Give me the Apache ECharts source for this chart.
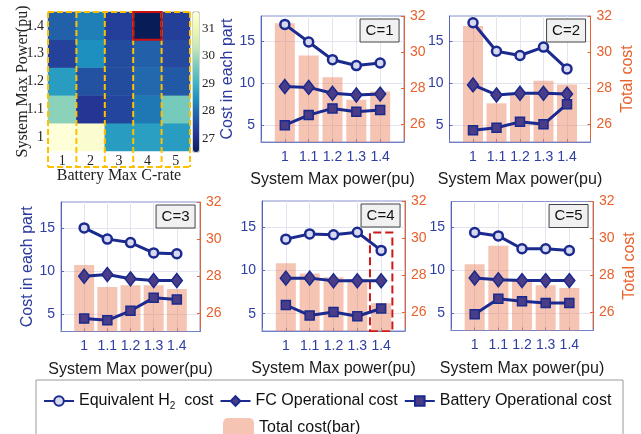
<!DOCTYPE html>
<html>
<head>
<meta charset="utf-8">
<script src="https://cdn.jsdelivr.net/npm/echarts@6/dist/echarts.min.js"></script>
<style>
  html, body { margin: 0; padding: 0; background: #fff; }
  #chart { width: 641px; height: 434px; }
</style>
</head>
<body>
<div id="chart"></div>
<script>
// System max power levels (pu) on the x axis of every panel
const powerLevels = [1, 1.1, 1.2, 1.3, 1.4];
const powerLabels = ['1', '1.1', '1.2', '1.3', '1.4'];
// Battery max C-rate, one panel per value
const cRates = ['1', '2', '3', '4', '5'];

// Cost components: one row per C-rate, one column per power level
const h2Cost = [
  [17.0, 14.9, 12.8, 12.1, 12.4],
  [17.2, 13.8, 13.3, 14.3, 11.7],
  [15.0, 13.7, 13.3, 12.1, 12.0],
  [13.6, 14.2, 14.1, 14.4, 12.3],
  [14.4, 14.0, 12.5, 12.5, 12.3]
];
const fcCost = [
  [9.6, 9.5, 8.8, 8.6, 8.7],
  [9.8, 8.6, 8.8, 8.8, 8.7],
  [9.4, 9.6, 9.1, 8.9, 8.9],
  [9.1, 9.1, 8.8, 8.8, 8.8],
  [9.1, 8.9, 8.8, 8.8, 8.8]
];
const batteryCost = [
  [5.0, 6.2, 7.0, 6.6, 6.8],
  [4.4, 4.7, 5.4, 5.1, 7.5],
  [4.5, 4.3, 5.4, 6.9, 6.7],
  [6.0, 4.8, 5.2, 4.7, 5.6],
  [4.9, 6.7, 6.4, 6.2, 6.2]
];
const totalCost = [
  [31.6, 29.8, 28.6, 27.35, 27.8],
  [31.45, 27.15, 27.6, 28.4, 28.2],
  [28.6, 27.4, 27.5, 27.5, 27.3],
  [28.65, 28.1, 27.9, 27.8, 26.5],
  [28.6, 29.6, 27.7, 27.45, 27.3]
];
const colorbarTicks = [27, 28, 29, 30, 31];

// Panel placement (pixels) for the five C-rate charts
const panels = [
  { c: 0, left: 261, top: 16, width: 143, height: 126, leftName: true,  rightName: false },
  { c: 1, left: 449.5, top: 16, width: 141, height: 126, leftName: false, rightName: true },
  { c: 2, left: 61, top: 202, width: 139, height: 129.5, leftName: true,  rightName: false },
  { c: 3, left: 262, top: 201, width: 143, height: 130, leftName: false, rightName: false },
  { c: 4, left: 451, top: 201.5, width: 142, height: 129, leftName: false, rightName: true }
];

const SANS = "'Liberation Sans', Arial, sans-serif";
const SERIF = "'Liberation Serif', 'Times New Roman', serif";
const NAVY = '#1b2a8e';
const BLUE_TXT = '#2f3ea2';
const ORANGE = '#e8602c';
const H2_NAME = 'Equivalent H2 cost';
const FC_NAME = 'FC Operational cost';
const BAT_NAME = 'Battery Operational cost';
const BAR_NAME = 'Total cost(bar)';
const YLGNBU = ['#081d58', '#253494', '#225ea8', '#1d91c0', '#41b6c4', '#7fcdbb', '#c7e9b4', '#edf8b1', '#ffffd9'];

// Optimal (lowest total cost) configuration
let best = { c: 0, p: 0, v: Infinity };
totalCost.forEach((row, c) => row.forEach((v, p) => { if (v < best.v) best = { c, p, v }; }));
const allTotals = totalCost.flat();
const vMin = Math.min(...allTotals);
const vMax = Math.max(...allTotals);

const grids = [], xAxes = [], yAxes = [], series = [], titles = [];

panels.forEach((p, i) => {
  grids.push({ left: p.left, top: p.top, width: p.width, height: p.height,
    show: true, borderColor: '#8590cc', borderWidth: 1, backgroundColor: 'transparent' });
  xAxes.push({
    type: 'value', gridIndex: i, min: 0.9, max: 1.5, interval: 0.1,
    axisLine: { show: true, lineStyle: { color: '#7380c6', width: 1 } },
    axisTick: { show: true, inside: true, length: 3, lineStyle: { color: '#7380c6' } },
    axisLabel: { color: BLUE_TXT, fontSize: 14, margin: 8, fontFamily: SANS,
      formatter: v => (v < 0.95 || v > 1.45) ? '' : String(Math.round(v * 10) / 10) },
    splitLine: { show: true, lineStyle: { color: '#e2e4f1', width: 1 } },
    name: 'System Max power(pu)', nameLocation: 'middle', nameGap: 30,
    nameTextStyle: { color: '#1a1a1a', fontSize: 16, fontFamily: SANS }
  });
  yAxes.push({
    type: 'value', gridIndex: i, position: 'left', min: 3, max: 18,
    axisLine: { show: true, lineStyle: { color: '#5565ba', width: 1 } },
    axisTick: { show: true, inside: true, length: 3, customValues: [5, 10, 15], lineStyle: { color: '#5565ba' } },
    axisLabel: { color: BLUE_TXT, fontSize: 14, margin: 6, fontFamily: SANS, customValues: [5, 10, 15] },
    splitLine: { show: true, lineStyle: { color: '#e2e4f1', width: 1 } },
    name: p.leftName ? 'Cost in each part' : '', nameLocation: 'middle', nameGap: 25, nameRotate: 90,
    nameTextStyle: { color: '#2a3a9e', fontSize: 16, fontFamily: SANS }
  });
  yAxes.push({
    type: 'value', gridIndex: i, position: 'right', min: 25, max: 32,
    axisLine: { show: true, lineStyle: { color: ORANGE, width: 1 } },
    axisTick: { show: true, inside: true, length: 3, customValues: [26, 28, 30, 32], lineStyle: { color: ORANGE } },
    axisLabel: { color: ORANGE, fontSize: 14, margin: 6, fontFamily: SANS, customValues: [26, 28, 30, 32] },
    splitLine: { show: false },
    name: p.rightName ? 'Total cost' : '', nameLocation: 'middle', nameGap: 29, nameRotate: 90,
    nameTextStyle: { color: ORANGE, fontSize: 16, fontFamily: SANS }
  });

  const bar = {
    type: 'bar', name: BAR_NAME, xAxisIndex: i, yAxisIndex: 2 * i + 1,
    data: powerLevels.map((x, k) => [x, totalCost[p.c][k]]),
    barWidth: 20, itemStyle: { color: 'rgba(234,130,94,0.47)' }, z: 1, silent: true
  };
  if (p.c === best.c) {
    bar.markArea = {
      silent: true,
      itemStyle: { color: 'rgba(0,0,0,0)', borderColor: '#cc1818', borderWidth: 2, borderType: 'dashed' },
      label: { show: false },
      data: [[{ xAxis: powerLevels[best.p] - 0.047, yAxis: 30.3 }, { xAxis: powerLevels[best.p] + 0.047, yAxis: 25 }]]
    };
  }
  series.push(bar);

  const lineBase = { type: 'line', xAxisIndex: i, yAxisIndex: 2 * i, z: 3, silent: true,
    lineStyle: { color: NAVY, width: 3 } };
  series.push(Object.assign({}, lineBase, {
    name: H2_NAME, data: powerLevels.map((x, k) => [x, h2Cost[p.c][k]]),
    symbol: 'circle', symbolSize: 9,
    itemStyle: { color: '#d6d9ef', borderColor: NAVY, borderWidth: 2.5 }
  }));
  series.push(Object.assign({}, lineBase, {
    name: FC_NAME, data: powerLevels.map((x, k) => [x, fcCost[p.c][k]]),
    symbol: 'diamond', symbolSize: [11, 14],
    itemStyle: { color: '#4a3c86', borderColor: NAVY, borderWidth: 1.5 }
  }));
  series.push(Object.assign({}, lineBase, {
    name: BAT_NAME, data: powerLevels.map((x, k) => [x, batteryCost[p.c][k]]),
    symbol: 'rect', symbolSize: 9,
    itemStyle: { color: '#4a3c86', borderColor: NAVY, borderWidth: 1.5 }
  }));

  titles.push({
    text: 'C=' + cRates[p.c], right: 641 - (p.left + p.width) + 4.5, top: p.top + 2.5,
    backgroundColor: '#f1f1f1', borderColor: '#444', borderWidth: 1, padding: [3, 6, 3, 6],
    textStyle: { fontSize: 15, fontWeight: 'normal', color: '#111', fontFamily: SANS, lineHeight: 18 }
  });
});

// Heatmap of total cost: C-rate (x) versus system max power (y)
const HEAT = panels.length;
grids.push({ left: 48, top: 12, width: 142, height: 139 });
xAxes.push({
  type: 'category', gridIndex: HEAT, data: cRates,
  axisLine: { show: false }, axisTick: { show: false },
  axisLabel: { color: '#222', fontSize: 14, fontFamily: SERIF, margin: 3 },
  name: 'Battery Max C-rate', nameLocation: 'middle', nameGap: 17, nameMoveOverlap: false,
  nameTextStyle: { color: '#222', fontSize: 16, fontFamily: SERIF }
});
yAxes.push({
  type: 'category', gridIndex: HEAT, data: powerLabels,
  axisLine: { show: false }, axisTick: { show: false },
  axisLabel: { color: '#222', fontSize: 14, fontFamily: SERIF, margin: 4 },
  name: 'System Max Power(pu)', nameLocation: 'middle', nameGap: 17, nameRotate: 90, nameMoveOverlap: false,
  nameTextStyle: { color: '#222', fontSize: 16, fontFamily: SERIF }
});
const heatData = [];
totalCost.forEach((row, c) => row.forEach((v, p) => heatData.push([c, p, v])));
const heatSeriesIndex = series.length;
series.push({ type: 'heatmap', xAxisIndex: HEAT, yAxisIndex: 2 * panels.length, data: heatData,
  silent: true, itemStyle: { borderWidth: 0 } });

// Colorbar scale
const CB = HEAT + 1;
grids.push({ left: 193, top: 12, width: 6, height: 140, show: true, borderColor: '#aaaaaa', borderWidth: 1 });
xAxes.push({ type: 'value', gridIndex: CB, show: false, min: 0, max: 1 });
yAxes.push({
  type: 'value', gridIndex: CB, position: 'right', min: vMin, max: vMax,
  axisLine: { show: false },
  axisTick: { show: true, length: 3, customValues: colorbarTicks, lineStyle: { color: '#444' } },
  axisLabel: { customValues: colorbarTicks, color: '#222', fontSize: 13, fontFamily: SERIF, margin: 3 },
  splitLine: { show: false }
});

const option = {
  animation: false,
  textStyle: { fontFamily: SANS },
  title: titles,
  grid: grids,
  xAxis: xAxes,
  yAxis: yAxes,
  visualMap: [{
    type: 'continuous', seriesIndex: heatSeriesIndex, min: vMin, max: vMax,
    left: 193, top: 12, itemWidth: 6, itemHeight: 140, padding: 0,
    calculable: false, orient: 'vertical', inRange: { color: YLGNBU }, text: null, z: 1
  }],
  legend: [{
    data: [H2_NAME, FC_NAME, BAT_NAME], left: 38, top: 386, itemWidth: 30, itemHeight: 12, itemGap: 6,
    selectedMode: false,
    formatter: n => n === H2_NAME ? 'Equivalent H{sub|2}  cost' : n,
    textStyle: { fontSize: 16, color: '#111', fontFamily: SANS, lineHeight: 20,
      rich: { sub: { fontSize: 10, lineHeight: 10, verticalAlign: 'bottom', fontFamily: SANS, color: '#111' } } }
  }, {
    data: [BAR_NAME], left: 218, top: 413, itemWidth: 31, itemHeight: 20,
    selectedMode: false,
    textStyle: { fontSize: 16, color: '#111', fontFamily: SANS }
  }],
  series: series
};

const chart = echarts.init(document.getElementById('chart'), null, { renderer: 'canvas' });
chart.setOption(option);

// Column frames over the heatmap and a box around the optimal cell
const px = (c, p) => chart.convertToPixel({ gridIndex: HEAT }, [c, p]);
const cellW = px(1, 0)[0] - px(0, 0)[0];
const cellH = px(0, 0)[1] - px(0, 1)[1];
const heatLeft = px(0, 0)[0] - cellW / 2;
const heatRight = px(cRates.length - 1, 0)[0] + cellW / 2;
const heatTop = px(0, powerLabels.length - 1)[1] - cellH / 2;
const frameBottom = px(0, 0)[1] + cellH / 2 + 16;
const dash = { stroke: '#ffc000', lineWidth: 2, lineDash: [6, 3], fill: null };
const graphics = [];
for (let k = 0; k <= cRates.length; k++) {
  const x = heatLeft + k * cellW;
  graphics.push({ type: 'line', silent: true, z: 10, shape: { x1: x, y1: heatTop, x2: x, y2: frameBottom }, style: dash });
}
[heatTop, frameBottom].forEach(y => graphics.push({ type: 'line', silent: true, z: 10,
  shape: { x1: heatLeft, y1: y, x2: heatRight, y2: y }, style: dash }));
const bc = px(best.c, best.p);
graphics.push({ type: 'rect', silent: true, z: 11,
  shape: { x: bc[0] - cellW / 2, y: bc[1] - cellH / 2, width: cellW, height: cellH },
  style: { fill: null, stroke: '#cc1010', lineWidth: 2 } });
// Legend frame
graphics.push({ type: 'rect', silent: true, z: 0,
  shape: { x: 36, y: 380, width: 587, height: 70 }, style: { fill: null, stroke: '#9a9a9a', lineWidth: 1 } });
chart.setOption({ graphic: graphics });
</script>
</body>
</html>
